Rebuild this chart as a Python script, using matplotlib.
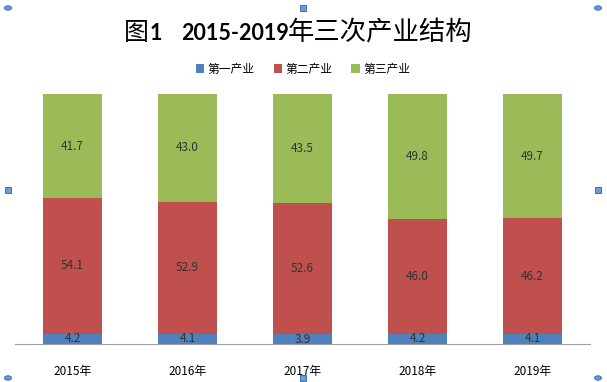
import matplotlib.pyplot as plt
from matplotlib.patches import Rectangle, Circle
import numpy as np

plt.rcParams['font.family'] = ['Noto Sans CJK SC', 'DejaVu Sans']

years = ['2015年', '2016年', '2017年', '2018年', '2019年']
primary = [4.2, 4.1, 3.9, 4.2, 4.1]     # 第一产业
secondary = [54.1, 52.9, 52.6, 46.0, 46.2]   # 第二产业
tertiary = [41.7, 43.0, 43.5, 49.8, 49.7]    # 第三产业
names = ['第一产业', '第二产业', '第三产业']
colors = ['#4F81BD', '#C0504D', '#9BBB59']

fig = plt.figure(figsize=(6.07, 3.82), dpi=100)
ax = fig.add_axes([15/607, 1-344/382, 575/607, 250/382])

x = np.arange(len(years))
bottom = np.zeros(len(years))
for vals, name, c in zip([primary, secondary, tertiary], names, colors):
    bars = ax.bar(x, vals, width=0.505, bottom=bottom, color=c, label=name)
    for xi, b, v in zip(x, bottom, vals):
        ax.text(xi, b + v/2, '%.1f' % v, ha='center', va='center', fontsize=8.5, color='#333333')
    bottom += np.array(vals)

ax.set_xlim(-0.5, len(years) - 0.5)
ax.set_ylim(0, 100)
ax.set_yticks([])
ax.set_xticks(x)
ax.set_xticklabels(years, fontsize=8.5)
ax.tick_params(axis='x', length=0, pad=15)
for s in ['top', 'right', 'left']:
    ax.spines[s].set_visible(False)
ax.spines['bottom'].set_color('#A0A0A0')

# 标题，分段放置（数字部分加粗）
ty = 1 - 40/382
fig.text(124/607, ty, '图', fontsize=18, va='baseline')
fig.text(150/607, ty, '1', fontsize=15.5, va='baseline', fontweight='bold', family='Lato')
fig.text(181/607, ty, '2015-2019', fontsize=15.5, va='baseline', fontweight='bold', family='Lato')
fig.text(288/607, ty, '年三次产业结构', fontsize=19, va='baseline')

fig.legend(loc='center', bbox_to_anchor=(303/607, 1-69/382), ncol=3, frameon=False,
           fontsize=8.5, handlelength=0.7, handleheight=0.7, handletextpad=0.3, columnspacing=1.6)

# 选择框手柄
for px, py, sq in [(8, 8, 0), (303, 8, 1), (598, 8, 0), (8, 190, 1), (598, 190, 1),
                   (8, 378, 0), (303, 378, 1), (598, 378, 0)]:
    fx, fy = px/607, 1-py/382
    if sq:
        fig.patches.append(Rectangle((fx-3/607, fy-3/382), 6/607, 6/382, transform=fig.transFigure,
                                     facecolor='#6A9BE0', edgecolor='#3060B0', lw=0.6))
    else:
        fig.patches.append(Circle((fx, fy), 3.5/607, transform=fig.transFigure,
                                  facecolor='#6A9BE0', edgecolor='#3060B0', lw=0.6))

fig.savefig('out.png', dpi=100)
